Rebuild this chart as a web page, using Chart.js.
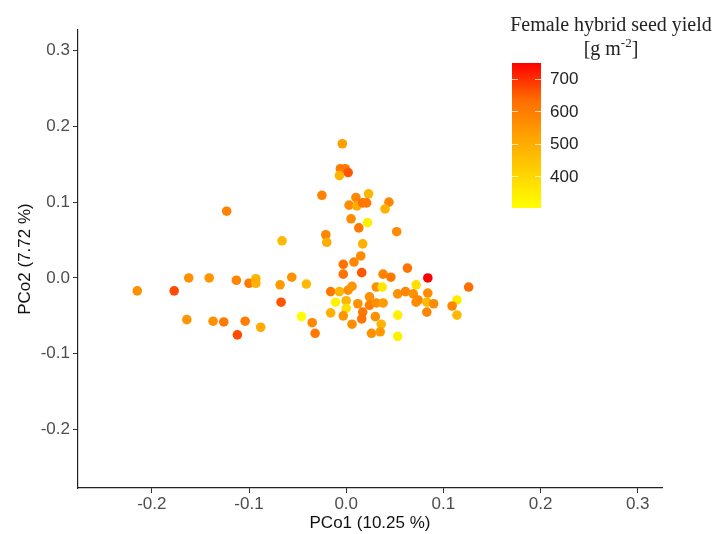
<!DOCTYPE html>
<html>
<head>
<meta charset="utf-8">
<script src="https://cdn.jsdelivr.net/npm/chart.js@4.4.1/dist/chart.umd.min.js"></script>
<style>
  body { margin: 0; background: #fff; }
  #wrap { width: 716px; height: 534px; }
</style>
</head>
<body>
<div id="wrap"><canvas id="chart" width="716" height="534"></canvas></div>
<script>
// PCo scores
const pc1 = [
  -0.215, -0.177, -0.162, -0.141, -0.113, -0.100, -0.093, -0.093, -0.068, -0.056,
  -0.041, -0.123, -0.066, -0.025, -0.021, -0.020, -0.016, -0.011, -0.067, -0.164,
  -0.137, -0.126, -0.104, -0.088, -0.112, -0.046, -0.035, -0.032, -0.016, -0.004,
  -0.006, -0.001, 0.002, -0.007, 0.010, 0.023, 0.003, 0.011, 0.017, 0.021,
  0.044, 0.040, 0.005, 0.022, 0.013, 0.052, 0.017, 0.015, 0.008, -0.003,
  -0.003, 0.016, -0.007, 0.002, 0.006, 0.000, 0.000, 0.012, 0.024, 0.024,
  0.017, 0.016, -0.003, 0.006, 0.026, 0.031, 0.037, 0.063, 0.084, 0.038,
  0.046, 0.072, 0.053, 0.061, 0.069, 0.074, 0.072, 0.084, 0.083, 0.090,
  0.083, 0.031, 0.038, 0.030, 0.036, 0.035, 0.053, 0.053, 0.126, 0.114,
  0.109, 0.114
];
const pc2 = [
  -0.017, -0.017, 0.000, 0.000, -0.003, -0.007, -0.001, -0.007, -0.009, 0.001,
  -0.008, 0.088, 0.049, 0.109, 0.057, 0.047, -0.018, -0.032, -0.032, -0.055,
  -0.057, -0.058, -0.057, -0.065, -0.075, -0.051, -0.059, -0.073, -0.046, 0.177,
  0.144, 0.144, 0.139, 0.135, 0.106, 0.111, 0.096, 0.095, 0.099, 0.099,
  0.100, 0.091, 0.078, 0.073, 0.066, 0.061, 0.045, 0.029, 0.021, 0.018,
  0.005, 0.007, -0.018, -0.016, -0.011, -0.030, -0.040, -0.034, -0.025, -0.036,
  -0.045, -0.054, -0.050, -0.061, -0.073, -0.012, -0.012, 0.013, 0.000, 0.005,
  0.001, -0.009, -0.021, -0.018, -0.021, -0.029, -0.032, -0.020, -0.032, -0.034,
  -0.045, -0.033, -0.033, -0.051, -0.061, -0.071, -0.049, -0.077, -0.012, -0.029,
  -0.037, -0.049
];
// female hybrid seed yield, g m-2
const seedYield = [
  560, 670, 560, 550, 580, 610, 480, 490, 540, 560,
  470, 590, 470, 590, 580, 500, 610, 330, 660, 550,
  560, 610, 600, 500, 670, 305, 580, 610, 490, 530,
  600, 610, 660, 480, 580, 480, 570, 500, 620, 610,
  580, 490, 570, 340, 610, 570, 490, 570, 580, 620,
  620, 660, 480, 560, 550, 480, 380, 560, 560, 600,
  610, 620, 550, 570, 560, 560, 360, 620, 748, 590,
  610, 380, 560, 580, 560, 580, 570, 570, 470, 570,
  580, 560, 540, 560, 480, 540, 340, 340, 630, 350,
  580, 470
];
const xTicks = [-0.2, -0.1, 0.0, 0.1, 0.2, 0.3];
const yTicks = [-0.2, -0.1, 0.0, 0.1, 0.2, 0.3];
const legendTicks = [400, 500, 600, 700];
const yieldMin = 302, yieldMax = 748;

// green channel of the yellow -> red ramp (interpolated in Lab like ggplot) at t = 0, .25, .5, .75, 1
const rampG = [255, 209, 161, 107, 0];
function yieldColor(v) {
  let t = (v - yieldMin) / (yieldMax - yieldMin);
  t = Math.min(1, Math.max(0, t));
  let i = Math.min(3, Math.floor(t * 4));
  let f = t * 4 - i;
  let g = Math.round(rampG[i] + (rampG[i + 1] - rampG[i]) * f);
  return `rgb(255,${g},0)`;
}

const sans = 'Liberation Sans, Arial, sans-serif';
const serif = 'Liberation Serif, Times New Roman, serif';

// colour bar legend on the right
const colorbar = {
  id: 'colorbar',
  afterDraw(chart) {
    const ctx = chart.ctx;
    const bx = 512, top = 63, w = 29, h = 145;
    const yOf = v => top + (yieldMax - v) / (yieldMax - yieldMin) * h;
    ctx.save();
    const grad = ctx.createLinearGradient(0, top + h, 0, top);
    for (let k = 0; k <= 20; k++) {
      grad.addColorStop(k / 20, yieldColor(yieldMin + (yieldMax - yieldMin) * k / 20));
    }
    ctx.fillStyle = grad;
    ctx.fillRect(bx, top, w, h);

    ctx.strokeStyle = 'rgba(255,255,255,0.7)';
    ctx.lineWidth = 1;
    ctx.font = `17px ${sans}`;
    ctx.fillStyle = '#222';
    ctx.textBaseline = 'middle';
    ctx.textAlign = 'left';
    for (const v of legendTicks) {
      const y = Math.round(yOf(v)) + 0.5;
      ctx.beginPath();
      ctx.moveTo(bx, y); ctx.lineTo(bx + 6, y);
      ctx.moveTo(bx + w - 6, y); ctx.lineTo(bx + w, y);
      ctx.stroke();
      ctx.fillText(String(v), 550, yOf(v) + 1);
    }

    // title
    ctx.fillStyle = '#222';
    ctx.textBaseline = 'alphabetic';
    ctx.textAlign = 'center';
    ctx.font = `20px ${serif}`;
    ctx.fillText('Female hybrid seed yield', 611, 31);
    const a = '[g m', sup = '-2', b = ']';
    const wa = ctx.measureText(a).width, wb = ctx.measureText(b).width;
    ctx.font = `13px ${serif}`;
    const ws = ctx.measureText(sup).width;
    let x0 = 611 - (wa + ws + wb) / 2;
    ctx.textAlign = 'left';
    ctx.font = `20px ${serif}`;
    ctx.fillText(a, x0, 55);
    ctx.font = `13px ${serif}`;
    ctx.fillText(sup, x0 + wa, 47);
    ctx.font = `20px ${serif}`;
    ctx.fillText(b, x0 + wa + ws, 55);
    ctx.restore();
  }
};

const points = pc1.map((x, i) => ({ x: x, y: pc2[i] }));

new Chart(document.getElementById('chart'), {
  type: 'scatter',
  data: {
    datasets: [{
      data: points,
      pointRadius: 4.8,
      pointHoverRadius: 4.8,
      borderWidth: 0,
      backgroundColor: ctx => yieldColor(seedYield[ctx.dataIndex])
    }]
  },
  options: {
    responsive: false,
    animation: false,
    layout: { padding: { top: 30, right: 54, left: 0, bottom: 0 } },
    plugins: { legend: { display: false }, tooltip: { enabled: false } },
    scales: {
      x: {
        type: 'linear',
        min: -0.276,
        max: 0.325,
        afterBuildTicks: s => { s.ticks = xTicks.map(v => ({ value: v })); },
        afterFit: s => { s.height = 46; },
        border: { display: true, color: '#222', width: 1.2 },
        grid: { drawOnChartArea: false, drawTicks: true, tickLength: 5, color: '#333' },
        ticks: {
          padding: 1,
          color: '#4d4d4d',
          font: { family: sans, size: 17 },
          callback: v => v.toFixed(1)
        },
        title: {
          display: true,
          text: 'PCo1 (10.25 %)',
          color: '#111',
          font: { family: sans, size: 17 },
          padding: { top: 2, bottom: 0 }
        }
      },
      y: {
        type: 'linear',
        min: -0.277,
        max: 0.327,
        afterBuildTicks: s => { s.ticks = yTicks.map(v => ({ value: v })); },
        afterFit: s => { s.width = 78; },
        border: { display: true, color: '#222', width: 1.2 },
        grid: { drawOnChartArea: false, drawTicks: true, tickLength: 5, color: '#333' },
        ticks: {
          padding: 3,
          color: '#4d4d4d',
          font: { family: sans, size: 17 },
          callback: v => v.toFixed(1)
        },
        title: {
          display: true,
          text: 'PCo2 (7.72 %)',
          color: '#111',
          font: { family: sans, size: 17 },
          padding: { top: 15, bottom: 0 }
        }
      }
    }
  },
  plugins: [colorbar]
});
</script>
</body>
</html>
